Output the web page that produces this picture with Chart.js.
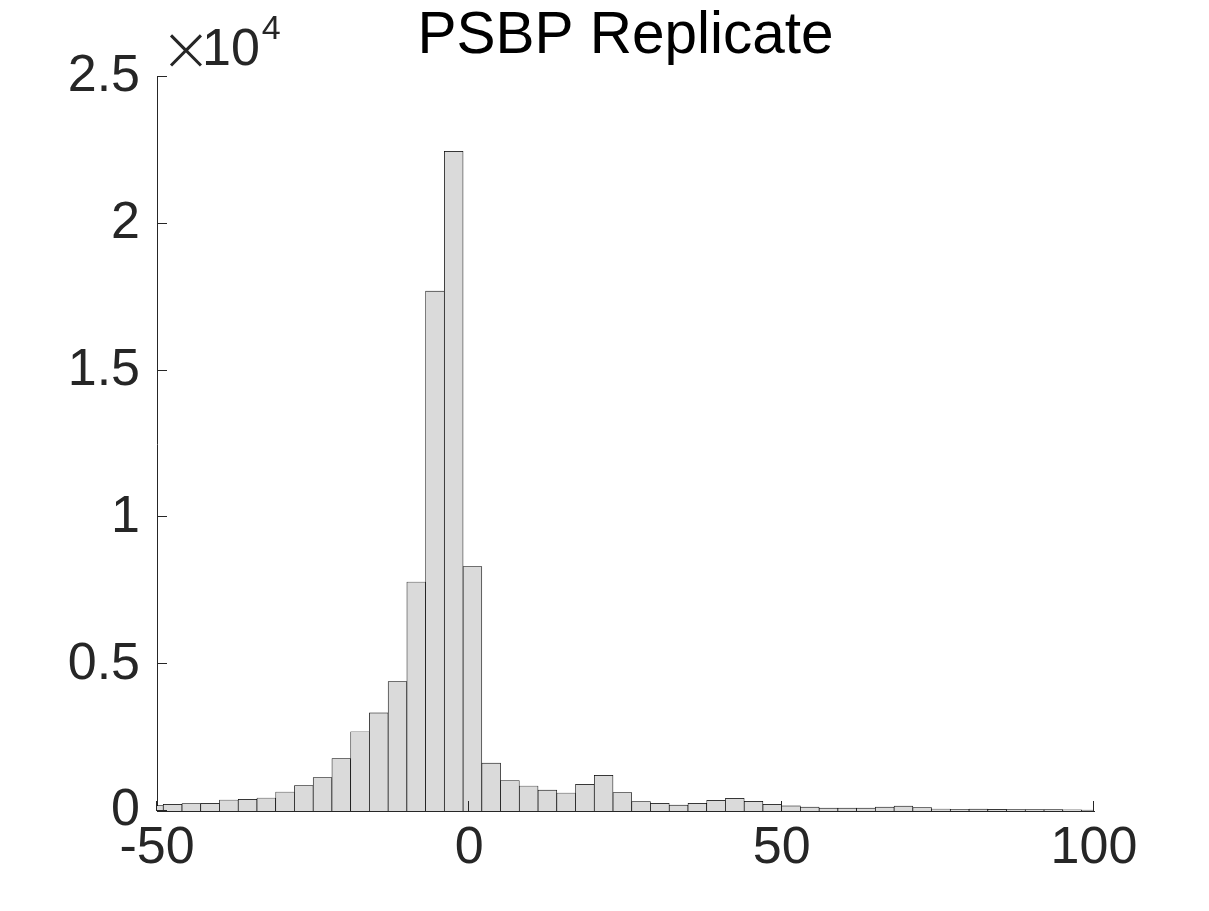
<!DOCTYPE html>
<html>
<head>
<meta charset="utf-8">
<script src="https://cdn.jsdelivr.net/npm/chart.js@4/dist/chart.umd.min.js"></script>
<style>
  html, body { margin: 0; padding: 0; background: #fff; }
  #wrap { width: 1209px; height: 911px; position: relative; }
</style>
</head>
<body>
<div id="wrap"><canvas id="c" width="1209" height="911"></canvas></div>
<script>
// Histogram bin centers (bin width 3)
const binCenters = [
  -50.5, -47.5, -44.5, -41.5, -38.5, -35.5, -32.5, -29.5, -26.5, -23.5,
  -20.5, -17.5, -14.5, -11.5, -8.5, -5.5, -2.5,
  0.5, 3.5, 6.5, 9.5, 12.5, 15.5, 18.5, 21.5, 24.5, 27.5,
  30.5, 33.5, 36.5, 39.5, 42.5, 45.5, 48.5,
  51.5, 54.5, 57.5, 60.5, 63.5, 66.5, 69.5, 72.5, 75.5, 78.5,
  81.5, 84.5, 87.5, 90.5, 93.5, 96.5, 99.5
];
// Counts per bin
const counts = [
  182, 227, 250, 261, 375, 397, 443, 647, 863, 1135,
  1783, 2700, 3340, 4407, 7800, 17710, 22470,
  8325, 1630, 1040, 852, 715, 613, 908, 1215, 624, 318,
  261, 204, 261, 363, 431, 329, 227,
  175, 136, 102, 100, 102, 136, 170, 115, 68, 60,
  65, 55, 50, 50, 45, 40, 30
];
const xTickValues = [-50, 0, 50, 100];
const xTickLabels = ['-50', '0', '50', '100'];
const yTickValues = [0, 5000, 10000, 15000, 20000, 25000];
const yTickLabels = ['0', '0.5', '1', '1.5', '2', '2.5'];
const titleText = 'PSBP Replicate';
const exponentTimes = '\u00D7';
const exponentBase = '10';
const exponentPower = '4';

const FONT = "'Liberation Sans', Arial, Helvetica, sans-serif";
const AXIS = '#262626';

const points = binCenters.map((x, i) => ({ x: x, y: counts[i] }));

const decorPlugin = {
  id: 'decor',
  afterDraw(chart) {
    const ctx = chart.ctx;
    const xs = chart.scales.x, ys = chart.scales.y;
    const a = chart.chartArea;
    ctx.save();
    // inward tick marks
    ctx.strokeStyle = AXIS;
    ctx.lineWidth = 1;
    ctx.beginPath();
    xTickValues.forEach(v => {
      const px = Math.round(xs.getPixelForValue(v)) - 0.5;
      ctx.moveTo(px, a.bottom);
      ctx.lineTo(px, a.bottom - 10);
    });
    yTickValues.forEach(v => {
      const py = Math.round(ys.getPixelForValue(v)) - 0.5;
      ctx.moveTo(a.left, py);
      ctx.lineTo(a.left + 10, py);
    });
    ctx.stroke();
    // title
    ctx.fillStyle = '#000';
    ctx.font = '58.5px ' + FONT;
    ctx.textAlign = 'center';
    ctx.textBaseline = 'alphabetic';
    ctx.fillText(titleText, (a.left + a.right) / 2, 53);
    // exponent label
    ctx.fillStyle = AXIS;
    ctx.textAlign = 'left';
    ctx.font = "200 62px 'DejaVu Sans', " + FONT;
    ctx.fillText(exponentTimes, 160, 70);
    ctx.font = '52px ' + FONT;
    ctx.fillText(exponentBase, 202, 65);
    const w = ctx.measureText(exponentBase).width;
    ctx.font = '34px ' + FONT;
    ctx.fillText(exponentPower, 202 + w + 2, 39);
    ctx.restore();
  }
};

new Chart(document.getElementById('c'), {
  type: 'bar',
  data: {
    datasets: [{
      data: points,
      backgroundColor: '#DADADA',
      borderColor: '#000',
      borderWidth: 0.7,
      borderSkipped: 'bottom',
      barPercentage: 1,
      categoryPercentage: 1,
      clip: 0
    }]
  },
  options: {
    responsive: false,
    animation: false,
    events: [],
    layout: { padding: { top: 77, right: 115, left: 0, bottom: 0 } },
    plugins: { legend: { display: false }, tooltip: { enabled: false }, title: { display: false } },
    scales: {
      x: {
        type: 'linear',
        offset: false,
        min: -50, max: 100,
        afterBuildTicks: s => { s.ticks = xTickValues.map(v => ({ value: v })); },
        afterFit: s => { s.height = 100; },
        ticks: {
          autoSkip: false,
          maxRotation: 0,
          padding: 6,
          color: AXIS,
          font: { family: FONT, size: 52 },
          callback: (v) => xTickLabels[xTickValues.indexOf(v)]
        },
        grid: { display: false, drawTicks: false, offset: false },
        border: { display: true, color: AXIS, width: 1 }
      },
      y: {
        min: 0, max: 25000,
        afterBuildTicks: s => { s.ticks = yTickValues.map(v => ({ value: v })); },
        afterFit: s => { s.width = 157; },
        ticks: {
          autoSkip: false,
          padding: 17,
          color: AXIS,
          font: { family: FONT, size: 52 },
          callback: (v) => yTickLabels[yTickValues.indexOf(v)]
        },
        grid: { display: false, drawTicks: false },
        border: { display: true, color: AXIS, width: 1 }
      }
    }
  },
  plugins: [decorPlugin]
});
</script>
</body>
</html>
